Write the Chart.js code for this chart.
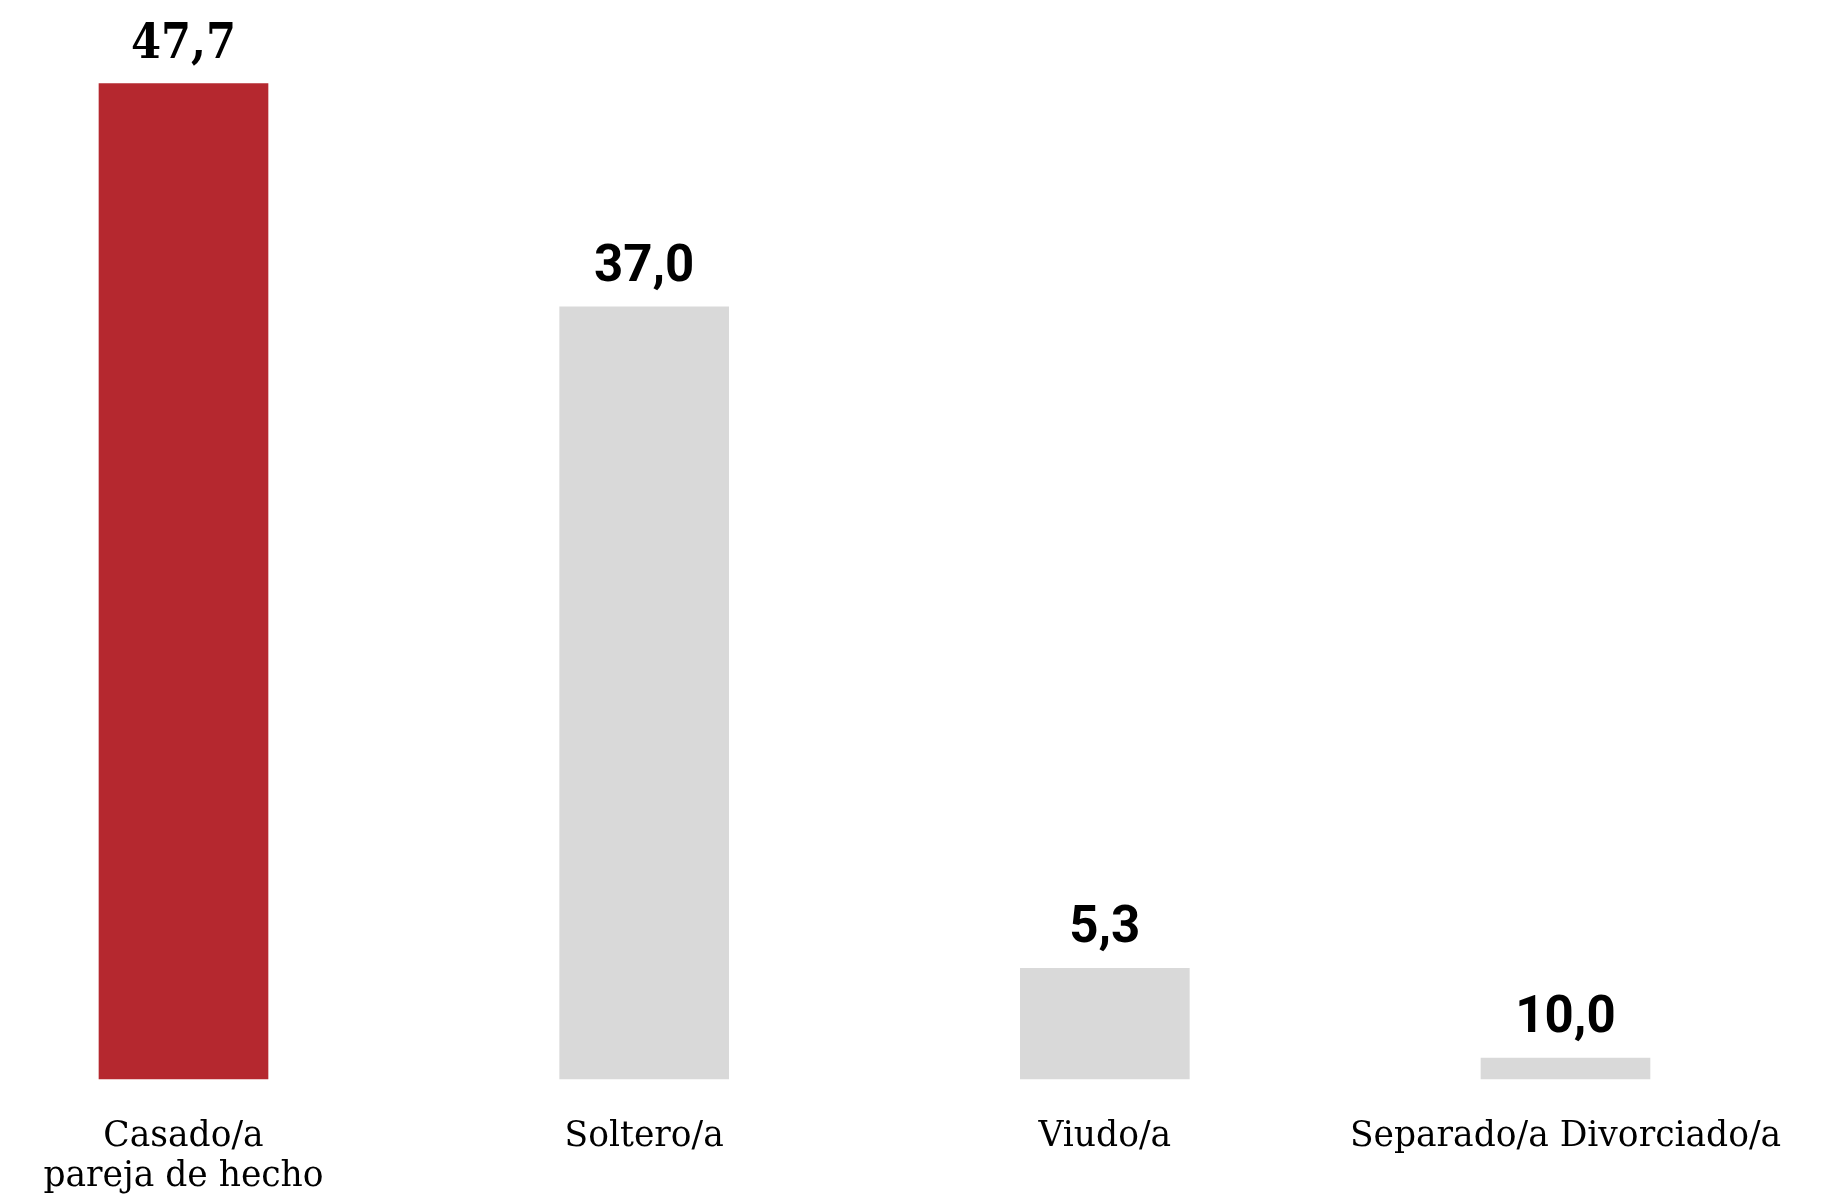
<!DOCTYPE html>
<html>
<head>
<meta charset="utf-8">
<script src="https://cdn.jsdelivr.net/npm/chart.js@4.4.0/dist/chart.umd.min.js"></script>
<style>
  html, body { margin: 0; padding: 0; background: #ffffff; }
  #wrap { width: 1843px; height: 1199px; position: relative; }
</style>
</head>
<body>
<div id="wrap"><canvas id="c"></canvas></div>
<script>
const categories = [['Casado/a', 'pareja de hecho'], 'Soltero/a', 'Viudo/a', 'Separado/a Divorciado/a'];
const values = [47.7, 37.0, 5.3, 1.0];
const valueLabels = ['47,7', '37,0', '5,3', '10,0'];
const barColors = ['#B5282F', '#D9D9D9', '#D9D9D9', '#D9D9D9'];

const valueLabelPlugin = {
  id: 'valueLabels',
  afterDatasetsDraw(chart) {
    const ctx = chart.ctx;
    const meta = chart.getDatasetMeta(0);
    ctx.save();
    ctx.fillStyle = '#000000';
    ctx.textAlign = 'center';
    ctx.textBaseline = 'alphabetic';
    meta.data.forEach((bar, i) => {
      if (i === 0) {
        ctx.font = "bold 48px 'DejaVu Serif Condensed', 'DejaVu Serif', serif";
      } else {
        ctx.font = "bold 51px Roboto, 'Liberation Sans', sans-serif";
      }
      ctx.fillText(valueLabels[i], bar.x, bar.y - 26);
    });
    ctx.restore();
  }
};

new Chart(document.getElementById('c'), {
  type: 'bar',
  data: {
    labels: categories,
    datasets: [{
      data: values,
      backgroundColor: barColors,
      borderWidth: 0,
      barThickness: 169,
      clip: false
    }]
  },
  options: {
    responsive: true,
    maintainAspectRatio: false,
    animation: false,
    layout: { padding: { top: 35.5, left: 183.5, right: 277.5, bottom: 0 } },
    plugins: { legend: { display: false }, tooltip: { enabled: false } },
    scales: {
      x: {
        offset: false,
        grid: { display: false, drawTicks: false },
        border: { display: false },
        ticks: {
          color: '#000000',
          padding: 38,
          maxRotation: 0,
          autoSkip: false,
          font: { family: "'DejaVu Serif', serif", size: 34.5, lineHeight: 1.16 }
        },
        afterFit(axis) { axis.height = 120; }
      },
      y: {
        display: false,
        min: 0,
        max: 50
      }
    }
  },
  plugins: [valueLabelPlugin]
});
</script>
</body>
</html>
